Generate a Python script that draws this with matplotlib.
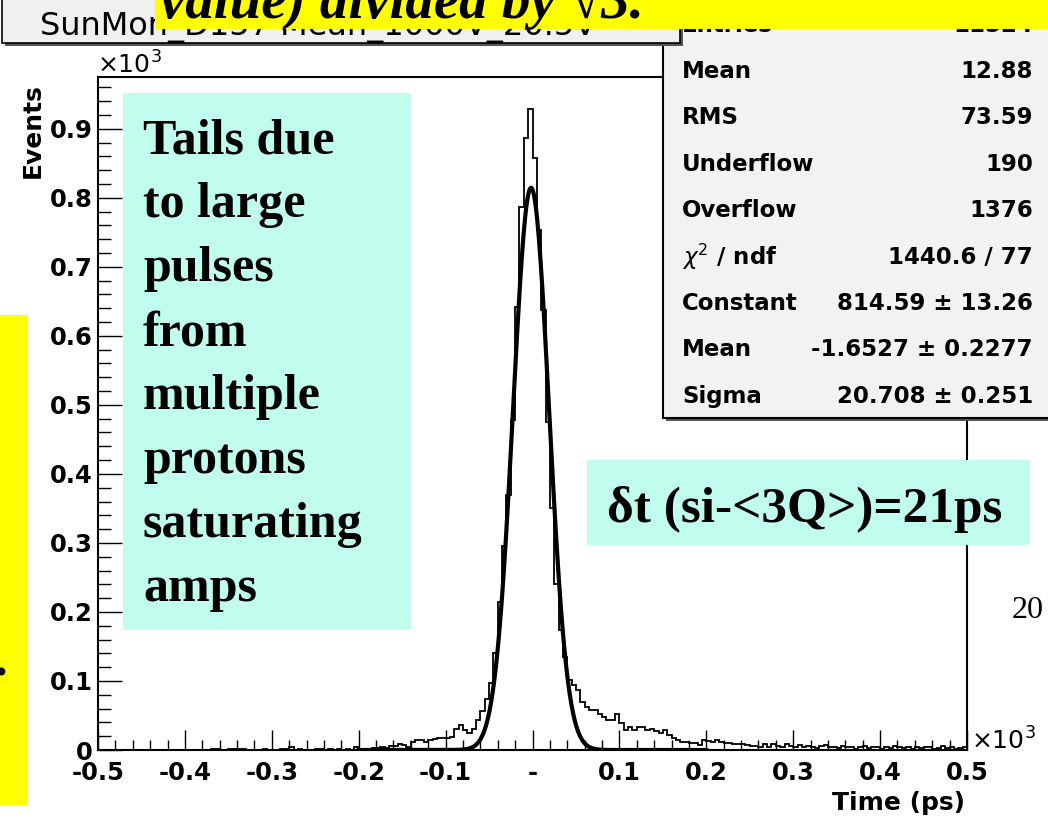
import numpy as np
import matplotlib.pyplot as plt
from matplotlib.patches import Rectangle
from matplotlib.ticker import MultipleLocator

# --- data: 5 ps bins from -500 to 500 ps (counts) ---
bin_lo, bin_hi, bin_w = -500, 500, 5
counts = [
    0, 0, 0, 0, 0, 0, 0, 0, 0, 0,              # -500 .. -455
    0, 0, 0, 0, 0, 0, 0, 0, 0, 0,              # -450 .. -405
    0, 0, 0, 0, 0, 0, 1, 1, 0, 0,              # -400 .. -355
    1, 2, 1, 1, 0, 0, 0, 0, 1, 0,              # -350 .. -305
    0, 0, 1, 1, 4, 0, 1, 0, 0, 0,              # -300 .. -255
    2, 2, 0, 1, 0, 1, 0, 1, 0, 5,              # -250 .. -205
    2, 1, 1, 3, 3, 5, 3, 6, 6, 8,              # -200 .. -155
    7, 4, 12, 14, 14, 12, 15, 16, 17, 17,      # -150 .. -105
    18, 19, 30, 36, 29, 24, 30, 43, 56, 74,    # -100 .. -55
    97, 140, 215, 296, 370, 478, 642, 786, 887, 929,  # -50 .. -5
    858, 754, 638, 475, 350, 241, 174, 135, 101, 94,  # 0 .. 45
    87, 70, 63, 58, 58, 52, 48, 43, 43, 52,    # 50 .. 95
    39, 29, 34, 29, 34, 33, 29, 30, 27, 24,    # 100 .. 145
    29, 22, 17, 15, 12, 12, 10, 10, 7, 15,     # 150 .. 195
    13, 12, 14, 12, 10, 10, 9, 9, 8, 7,        # 200 .. 245
    6, 6, 5, 8, 5, 9, 6, 4, 8, 6,              # 250 .. 295
    5, 7, 4, 6, 5, 3, 6, 7, 4, 5,              # 300 .. 345
    3, 6, 4, 5, 2, 4, 6, 3, 5, 4,              # 350 .. 395
    2, 5, 3, 6, 4, 3, 5, 2, 4, 3,              # 400 .. 445
    5, 4, 2, 3, 6, 3, 4, 2, 3, 4,              # 450 .. 495
]

# gaus fit parameters from the stats box
fit_const, fit_mean, fit_sigma = 814.59, -1.6527, 20.708
fit_range = (-200, 200)

stats_rows = [
    ("Entries", "11524"),
    ("Mean", "12.88"),
    ("RMS", "73.59"),
    ("Underflow", "190"),
    ("Overflow", "1376"),
    (r"$\chi^{2}$ / ndf", "1440.6 / 77"),
    ("Constant", "814.59 \u00b1 13.26"),
    ("Mean", "-1.6527 \u00b1 0.2277"),
    ("Sigma", "20.708 \u00b1 0.251"),
]

xtick_vals = [-500, -400, -300, -200, -100, 0, 100, 200, 300, 400, 500]
xtick_labels = ["-0.5", "-0.4", "-0.3", "-0.2", "-0.1", "-", "0.1", "0.2", "0.3", "0.4", "0.5"]
ytick_vals = [0, 100, 200, 300, 400, 500, 600, 700, 800, 900]
ytick_labels = ["0", "0.1", "0.2", "0.3", "0.4", "0.5", "0.6", "0.7", "0.8", "0.9"]

note_lines = ["Tails due", "to large", "pulses", "from", "multiple", "protons",
              "saturating", "amps"]
result_text = "\u03b4t (si-<3Q>)=21ps"
title_text = "SunMon_D157 Mean_1000V_20.5V"
banner_text = "value) divided by \u221a3."

# --- figure in pixel coordinates ---
W, H = 1048, 819
fig = plt.figure(figsize=(W / 100, H / 100), dpi=100)


def fx(x):
    return x / W


def fy(y):
    return 1 - y / H


def box(x0, y0, x1, y1, fc, z, ec="none", lw=0):
    r = Rectangle((fx(x0), fy(y1)), (x1 - x0) / W, (y1 - y0) / H,
                  transform=fig.transFigure, facecolor=fc, edgecolor=ec,
                  linewidth=lw, zorder=z)
    fig.add_artist(r)


sans = "DejaVu Sans"
serif = ["Liberation Serif", "DejaVu Serif"]

ax = fig.add_axes([fx(98), fy(750), (967 - 98) / W, (750 - 77) / H])
edges = np.arange(bin_lo, bin_hi + bin_w, bin_w)
ax.stairs(counts, edges, color="black", linewidth=1.3, zorder=2)

xf = np.linspace(fit_range[0], fit_range[1], 400)
yf = fit_const * np.exp(-0.5 * ((xf - fit_mean) / fit_sigma) ** 2)
ax.plot(xf, yf, color="black", linewidth=3.0, zorder=3)

ax.set_xlim(bin_lo, bin_hi)
ax.set_ylim(0, 975)
ax.set_xticks(xtick_vals, xtick_labels)
ax.set_yticks(ytick_vals, ytick_labels)
ax.xaxis.set_minor_locator(MultipleLocator(20))
ax.yaxis.set_minor_locator(MultipleLocator(20))
ax.tick_params(axis="x", which="major", direction="in", length=14.4, width=1,
               pad=8, top=False)
ax.tick_params(axis="x", which="minor", direction="in", length=7.2, width=1, top=False)
ax.tick_params(axis="y", which="major", direction="in", length=17, width=1,
               pad=4, right=False)
ax.tick_params(axis="y", which="minor", direction="in", length=9, width=1, right=False)
for lab in ax.get_xticklabels() + ax.get_yticklabels():
    lab.set_fontfamily(sans)
    lab.set_fontweight("bold")
    lab.set_fontsize(17.5)
for sp in ax.spines.values():
    sp.set_linewidth(1.5)

fig.text(fx(33), fy(83), "Events", rotation=90, ha="center", va="top",
         family=sans, weight="bold", fontsize=18)
fig.text(fx(965), fy(803), "Time (ps)", ha="right", va="center",
         family=sans, weight="bold", fontsize=18)
fig.text(fx(97), fy(74), r"$\times$10$^{3}$", ha="left", va="baseline",
         family=sans, fontsize=18)
fig.text(fx(971), fy(750), r"$\times$10$^{3}$", ha="left", va="baseline",
         family=sans, fontsize=18)

# stats box
box(666, -10, 1070, 421, "#555555", 2)
box(663, -10, 1070, 418, "#f2f2f2", 2.1, ec="black", lw=1.5)
for i, (lab, val) in enumerate(stats_rows):
    yc = 25 + i * 46.4
    fig.text(fx(682), fy(yc), lab, ha="left", va="center", family=sans,
             weight="bold", fontsize=16.5, zorder=2.2)
    fig.text(fx(1033), fy(yc), val, ha="right", va="center", family=sans,
             weight="bold", fontsize=16.5, zorder=2.2)

# title box
box(5, -10, 683, 46, "#555555", 3)
box(2, -10, 680, 43, "#f0f0f0", 3.1, ec="black", lw=1.2)
fig.text(fx(40), fy(35), title_text, ha="left", va="baseline", family=sans,
         fontsize=23, zorder=3.2)

# annotation boxes
box(123, 93, 411, 630, "#c0fdee", 4)
for i, line in enumerate(note_lines):
    fig.text(fx(143), fy(153 + i * 64), line, ha="left", va="baseline",
             family=serif, weight="bold", fontsize=36, zorder=4.1)

box(587, 460, 1030, 545, "#c0fdee", 4)
fig.text(fx(607), fy(522), result_text, ha="left", va="baseline",
         family=serif, weight="bold", fontsize=37, zorder=4.1)

fig.text(fx(1012), fy(618), "20", ha="left", va="baseline", family=serif,
         fontsize=23, zorder=4.1)

# yellow slide overlays
box(155, -10, 1060, 29, "#ffff00", 5)
fig.text(fx(160), fy(18), banner_text, ha="left", va="baseline", family=serif,
         weight="bold", style="italic", fontsize=41, zorder=5.1)
box(-5, 315, 28, 805, "#ffff00", 5)
fig.text(fx(1), fy(676), ".", ha="center", va="baseline", family=serif,
         weight="bold", fontsize=36, zorder=5.1)

fig.savefig("out.png", dpi=100)
